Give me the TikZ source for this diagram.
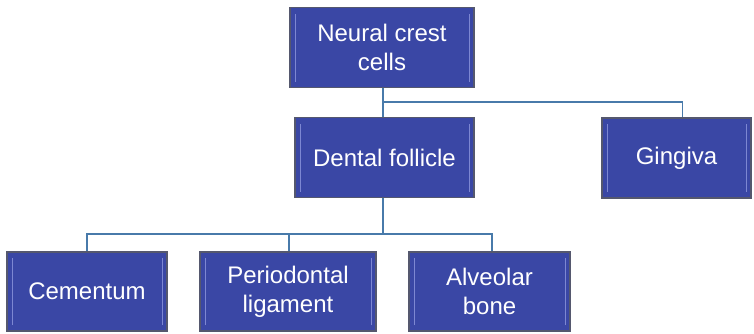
\documentclass[tikz,border=0pt]{standalone}
\usepackage{fontspec}
\setmainfont{Liberation Sans}
\usetikzlibrary{positioning,calc}

\definecolor{boxblue}{RGB}{58,71,165}
\definecolor{boxedge}{RGB}{85,88,110}
\definecolor{boxglint}{RGB}{125,135,210}
\definecolor{linkblue}{RGB}{72,122,170}

\begin{document}
\begin{tikzpicture}[
  x=1pt, y=-1pt,
  every node/.style={font=\fontsize{24}{29}\selectfont},
  cell/.style={draw=boxedge, line width=1.2pt, fill=boxblue, text=white,
    align=center, inner sep=0pt, minimum height=80pt,
    path picture={
      \draw[boxglint, line width=1pt]
        ([xshift=5pt,yshift=6pt]path picture bounding box.south west) --
        ([xshift=5pt,yshift=-6pt]path picture bounding box.north west)
        ([xshift=-5pt,yshift=6pt]path picture bounding box.south east) --
        ([xshift=-5pt,yshift=-6pt]path picture bounding box.north east);
    }},
  link/.style={draw=linkblue, line width=1.8pt}
]
  \useasboundingbox (0,0) rectangle (754,333);

  \node[cell, minimum width=184pt] (ncc) at (382,47.5) {Neural crest\\cells};
  \node[cell, minimum width=179pt] (df) at (384.5,157.5) {Dental follicle};
  \node[cell, minimum width=149pt] (gin) at (676.5,158) {Gingiva};
  \node[cell, minimum width=160pt, minimum height=79pt] (cem) at (87,291.5) {Cementum};
  \node[cell, minimum width=176pt, minimum height=79pt] (pdl) at (288,291.5) {Periodontal\\ligament};
  \node[cell, minimum width=161pt, minimum height=79pt] (ab) at (489.5,291.5) {Alveolar\\bone};

  % upper branch
  \path[link] ([xshift=1pt]ncc.south) -- ([xshift=-1.5pt]df.north);
  \path[link] ([xshift=1pt]ncc.south) ++(0,14) coordinate (j1) -| ([xshift=6pt]gin.north);

  % lower branch
  \path[link] ([xshift=-1.5pt]df.south) -- ++(0,36) coordinate (j2);
  \path[link] (cem.north) |- (j2) -| ([xshift=2.5pt]ab.north);
  \path[link] ([xshift=1pt]pdl.north) |- (j2);

\end{tikzpicture}
\end{document}
